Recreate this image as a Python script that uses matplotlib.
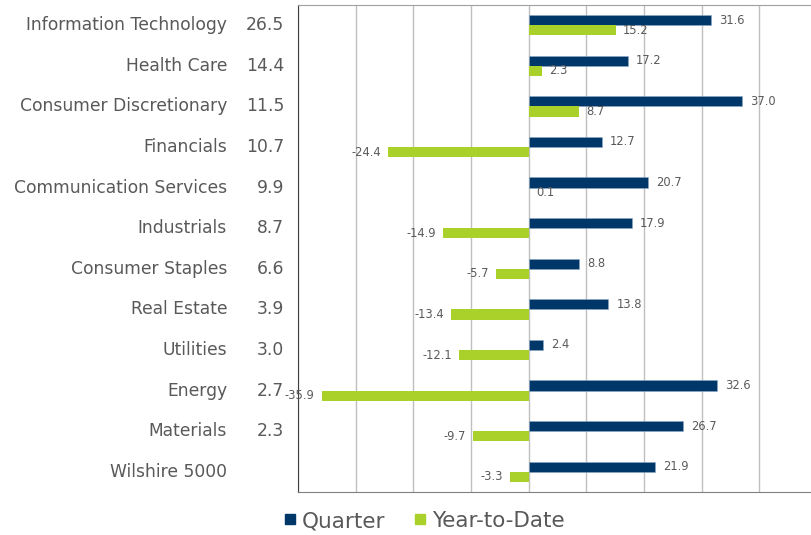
import numpy as np
import matplotlib.pyplot as plt
from matplotlib.lines import Line2D
from matplotlib.transforms import blended_transform_factory

sectors = ['Information Technology', 'Health Care', 'Consumer Discretionary', 'Financials',
           'Communication Services', 'Industrials', 'Consumer Staples', 'Real Estate',
           'Utilities', 'Energy', 'Materials', 'Wilshire 5000']
weights = ['26.5', '14.4', '11.5', '10.7', '9.9', '8.7', '6.6', '3.9', '3.0', '2.7', '2.3', '']
quarter = [31.6, 17.2, 37.0, 12.7, 20.7, 17.9, 8.8, 13.8, 2.4, 32.6, 26.7, 21.9]
ytd = [15.2, 2.3, 8.7, -24.4, 0.1, -14.9, -5.7, -13.4, -12.1, -35.9, -9.7, -3.3]

navy = '#003769'
green = '#AAD02A'
txt = '#595959'

fig = plt.figure(figsize=(8.11, 5.35), dpi=100)
ax = fig.add_axes([298/811, 1-492/535, 519/811, 487/535])

y = np.arange(len(sectors))
h = 0.25
ax.barh(y - h/2, quarter, height=h, color=navy, edgecolor='#8fa8c8', linewidth=0.4, zorder=3)
ax.barh(y + h/2, ytd, height=h, color=green, zorder=3)

ax.set_xlim(-40, 50)
ax.set_ylim(len(sectors) - 0.5, -0.5)
ax.set_xticks(np.arange(-40, 51, 10))
ax.xaxis.grid(True, color='#BFBFBF', linewidth=1, zorder=0)
ax.tick_params(length=0, labelbottom=False, labelleft=False)
ax.set_yticks([])

ax.spines['right'].set_visible(False)
ax.spines['left'].set_color('#404040')
ax.spines['bottom'].set_color('#808080')
ax.spines['top'].set_color('#A0A0A0')

for i in range(len(sectors)):
    ax.annotate(f'{quarter[i]:.1f}', (quarter[i], y[i] - h/2), xytext=(6, 0),
                textcoords='offset points', va='center', ha='left', fontsize=8.3, color=txt)
    if ytd[i] >= 0:
        ax.annotate(f'{ytd[i]:.1f}', (ytd[i], y[i] + h/2), xytext=(5, 0),
                    textcoords='offset points', va='center', ha='left', fontsize=8.3, color=txt)
    else:
        ax.annotate(f'{ytd[i]:.1f}', (ytd[i], y[i] + h/2), xytext=(-5, 0),
                    textcoords='offset points', va='center', ha='right', fontsize=8.3, color=txt)

tr = blended_transform_factory(fig.transFigure, ax.transData)
for i in range(len(sectors)):
    ax.text(227/811, y[i], sectors[i], transform=tr, ha='right', va='center',
            fontsize=12.3, color=txt)
    ax.text(284/811, y[i], weights[i], transform=tr, ha='right', va='center',
            fontsize=12.3, color=txt)

handles = [Line2D([], [], marker='s', color=navy, linestyle='', markersize=7.5),
           Line2D([], [], marker='s', color=green, linestyle='', markersize=7.5)]
fig.legend(handles, ['Quarter', 'Year-to-Date'], loc='center', bbox_to_anchor=(422/811, 1-521/535),
           ncol=2, frameon=False, fontsize=15.5, labelcolor=txt, handletextpad=0.05,
           columnspacing=1.1, handlelength=1.0)

fig.savefig('out.png', dpi=100)
